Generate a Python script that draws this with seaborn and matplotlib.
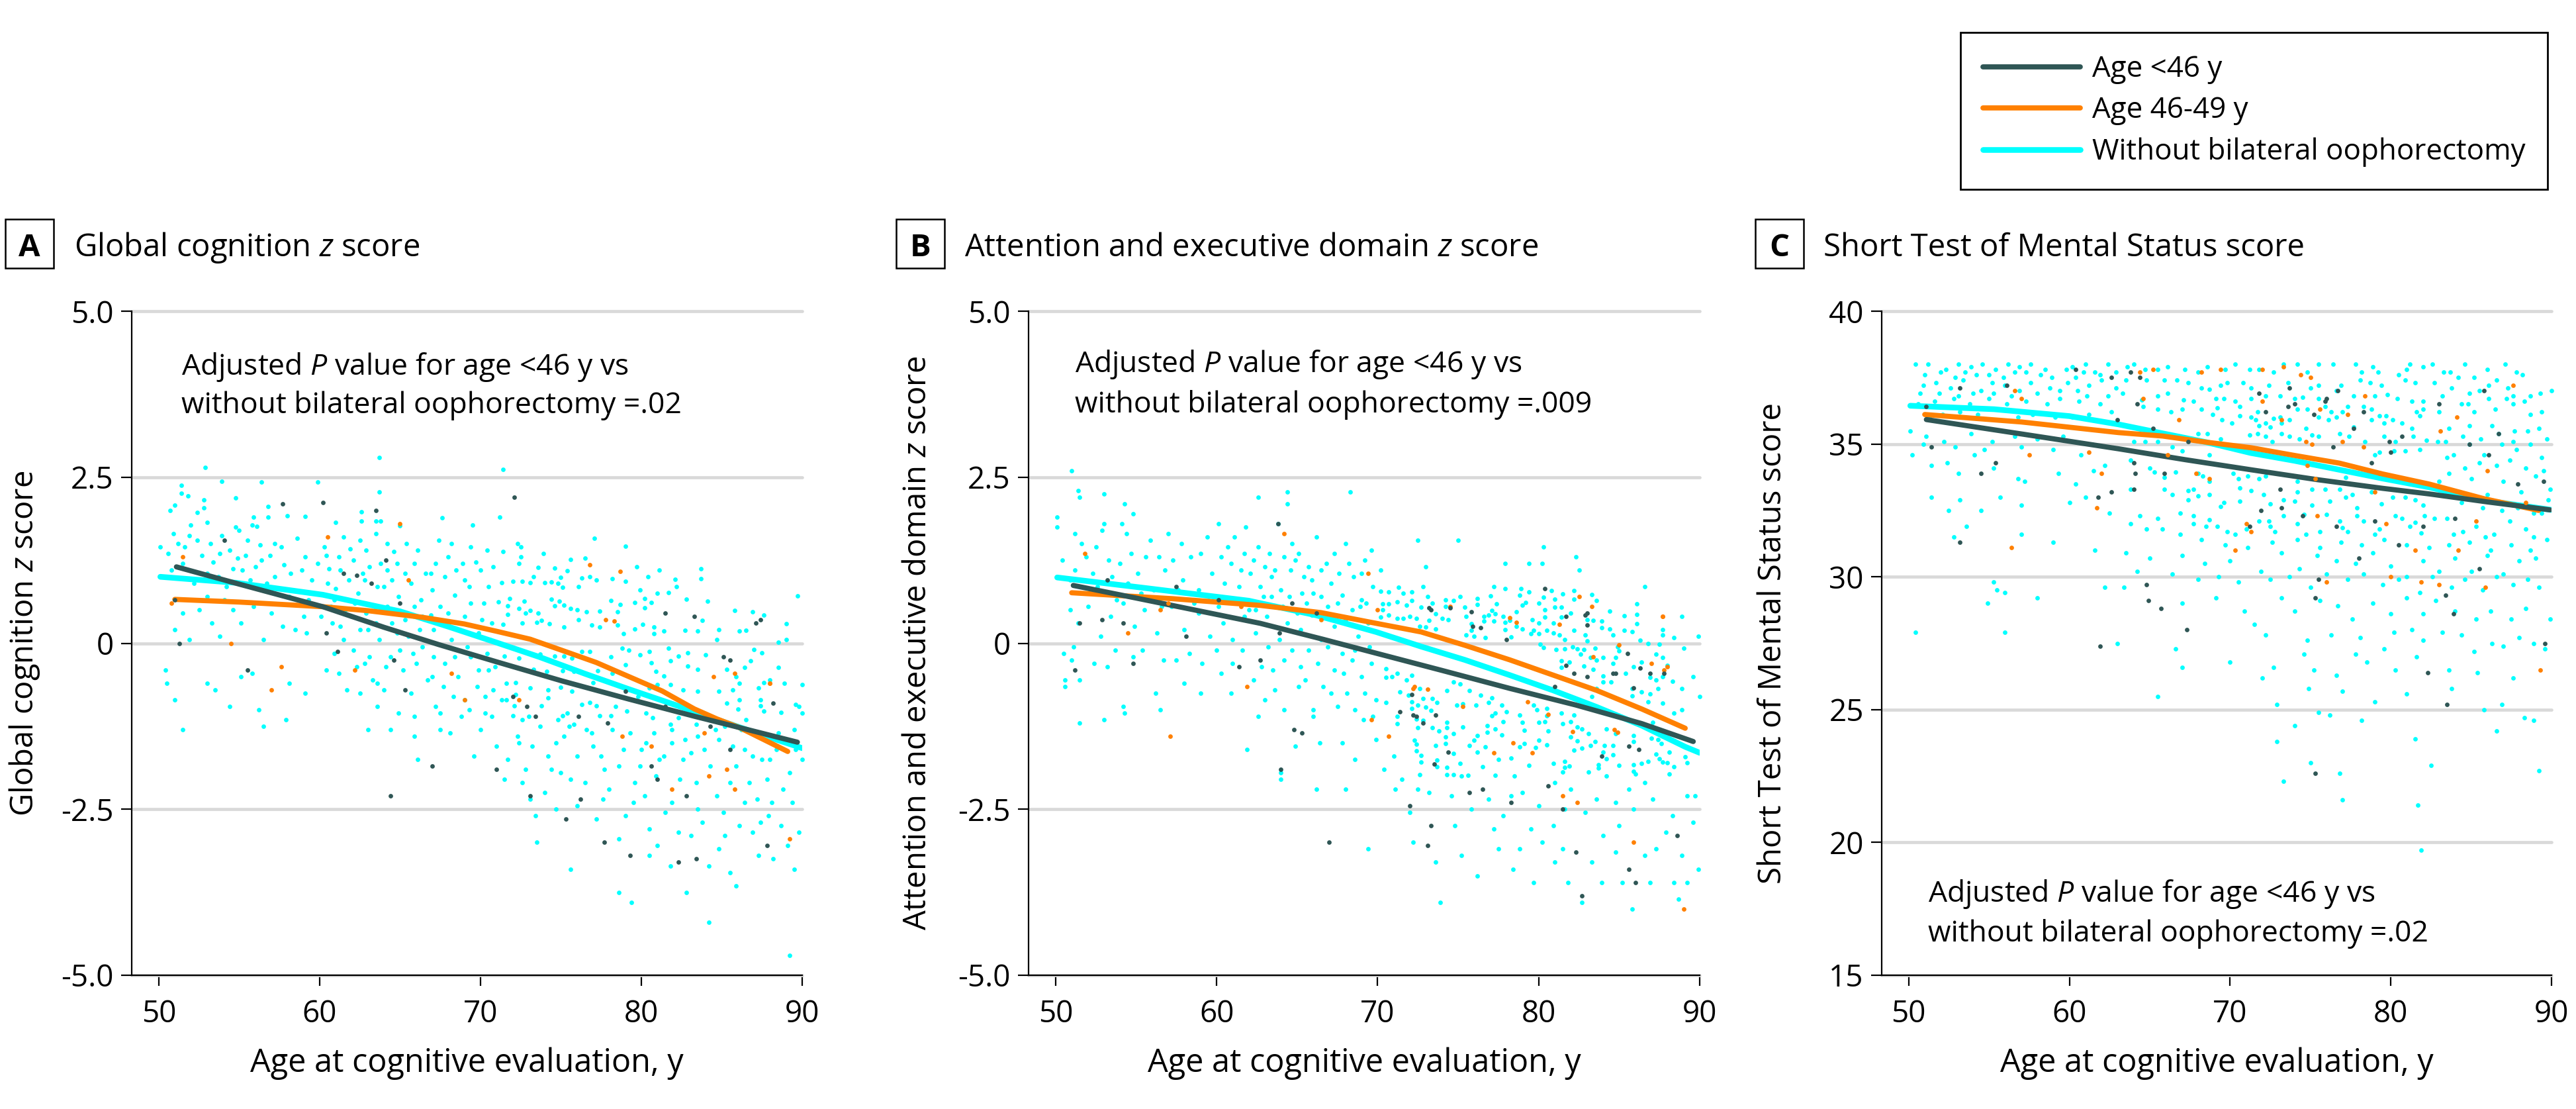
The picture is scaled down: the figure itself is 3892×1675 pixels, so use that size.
#Three panels of cognition score vs age with fitted curves
import matplotlib
matplotlib.use("Agg")
import matplotlib.pyplot as plt
import pandas as pd
import seaborn as sns

W, H = 3892, 1675
dark = "#2F5655"
orange = "#FF8000"
cyan = "#00FFFF"
group_names = ["Age <46 y", "Age 46-49 y", "Without bilateral oophorectomy"]

#fitted curves (age, score)
a_dark_line = [(51.1,1.15),(55,.89),(60.2,.55),(64,.24),(67.4,-.02),(71,-.28),(75.1,-.57),(79.2,-.84),(83.3,-1.1),(86.1,-1.27),(89.7,-1.49)]
a_orange_line = [(51,.66),(55,.62),(60.2,.55),(63,.49),(66.4,.39),(69,.29),(71,.18),(73.1,.06),(75.1,-.11),(77.2,-.29),(79.2,-.5),(81.3,-.72),(83.3,-.99),(84.7,-1.14),(86.1,-1.27),(89.1,-1.63)]
a_cyan_line = [(50.1,1.0),(54.8,.91),(60.2,.73),(65,.48),(68,.25),(71,.01),(73.7,-.21),(76.5,-.46),(79.2,-.69),(82,-.92),(84.7,-1.15),(87.5,-1.38),(90,-1.58)]
b_dark_line = [(51.1,.87),(55,.68),(62.7,.30),(66.6,.06),(69.9,-.15),(74,-.41),(78.2,-.68),(82.3,-.93),(86.4,-1.21),(89.6,-1.48)]
b_orange_line = [(51,.76),(57.3,.67),(62.7,.57),(66.5,.46),(69.9,.3),(72.7,.17),(75.4,-.03),(78.2,-.25),(80.9,-.48),(83.6,-.71),(86.4,-.99),(89.1,-1.28)]
b_cyan_line = [(50.1,.99),(55.6,.83),(62,.64),(66.2,.42),(69.9,.17),(72.7,-.05),(75.4,-.25),(78.2,-.48),(80.9,-.71),(83.6,-.96),(86.4,-1.24),(89.1,-1.56),(90,-1.65)]
c_dark_line = [(51.1,35.92),(57,35.38),(63.05,34.82),(67.2,34.41),(71.3,34.03),(75.4,33.66),(79.5,33.33),(82.4,33.12),(86,32.82),(89.9,32.52)]
c_orange_line = [(51,36.11),(57,35.83),(63.05,35.43),(65.8,35.3),(68.5,35.07),(71.3,34.86),(74,34.57),(76.8,34.28),(79.5,33.87),(82.4,33.49),(85.8,32.94),(89.2,32.5)]
c_cyan_line = [(50.1,36.44),(55.3,36.31),(60,36.05),(63.05,35.74),(65.8,35.4),(68.5,35.07),(71.3,34.66),(74,34.37),(76.8,34.03),(79.5,33.7),(82.4,33.37),(85.8,32.88),(90,32.52)]

#individual participants (age, score)
a_cyan = [(52.9,2.65),(53.9,2.44),(56.4,2.43),(59.9,2.43),(63.7,2.8),(63.7,2.28),(71.4,2.62),(51.4,2.38),(51.4,2.26),(51.8,2.22),
(52.8,2.16),(51,2.08),(50.7,2),(52.8,2.04),(54.8,2.19),(56.8,2.06),(52.4,1.97),(55.9,1.9),(56.8,1.9),(58,1.92),
(59.1,1.91),(62.6,1.98),(63.5,1.84),(63.8,1.84),(62.6,1.84),(61,1.82),(65,1.77),(67.6,1.89),(69.5,1.78),(71.2,1.9),
(52,1.78),(53,1.82),(54.8,1.75),(55,1.7),(55.8,1.78),(56.1,1.76),(50.1,1.45),(50.6,1.35),(51.2,1.5),(51.6,1.45),
(52.4,1.55),(53.2,1.5),(53.8,1.35),(54.4,1.4),(55.5,1.55),(56.3,1.48),(57.2,1.5),(57.6,1.45),(58.6,1.58),(59.1,1.3),
(60.3,1.45),(60.4,1.32),(61.5,1.6),(62.1,1.25),(62.9,1.4),(63.5,1.65),(64.2,1.5),(64.6,1.38),(66.1,1.4),(67.2,1.2),
(68,1.3),(69.4,1.45),(50.3,1),(50.8,1.1),(51.5,1.2),(52.2,.9),(53,1.05),(53.7,1),(54.2,.85),(55.2,1.1),
(56,1.15),(56.7,.9),(57.2,1.0),(58.1,.7),(59.3,.65),(60.5,.9),(61,.82),(61.8,.95),(62.4,.75),(63.4,.55),
(64,.85),(64.9,.7),(65.7,.9),(66.3,.65),(67,.8),(67.8,1),(68.4,.72),(69.3,.85),(70.2,.6),(51,.2),
(51.5,.45),(52.5,.5),(53.3,.3),(54.1,.65),(55.1,.3),(56.5,.05),(57,.45),(58.5,.2),(59.2,.15),(60.8,.3),
(61.5,.05),(62,.4),(63,.2),(63.7,.05),(64.5,.3),(65.5,.1),(66.4,.4),(67.1,.2),(68.2,.05),(69,.4),
(69.9,.15),(70.7,.3),(50.4,-.4),(50.5,-.6),(51,-.85),(51.5,-1.3),(53,-.6),(53.5,-.7),(54.4,-.95),(55.1,-.5),
(55.8,-.45),(56.2,-1),(56.5,-1.25),(57.9,-1.15),(58.1,-.6),(59.1,-.75),(60.4,-.4),(61.7,-.7),(62.3,-.35),(63,-1.3),
(63.6,-.95),(64,-.7),(64.9,-1.05),(65.9,-1.4),(66.1,-1.75),(67,-.5),(67.5,-1.05),(68.1,-1.35),(69,-.85),(69.6,-1.7),
(70.3,-1.05),(70.9,-.35),(72.3,-1.4),(72.8,-1.9),(73,-1.1),(73.4,-2.6),(73.5,-3),(74.7,-1.5),(75.6,-2.05),(75.6,-3.4),
(76.6,-1.3),(77.7,-1.9),(78.2,-1.3),(78.6,-2.95),(78.6,-3.75),(79.4,-3.9),(79.5,-2.4),(80,-1.6),(80.5,-2.8),(81,-3.05),
(81.4,-1.7),(81.9,-2.4),(82.3,-2.85),(82.8,-3.75),(83.1,-1.65),(83.5,-2.5),(84.2,-3.35),(84.2,-4.2),(84.8,-1.45),(85.1,-2.55),
(85.5,-3.45),(85.9,-1.85),(85.9,-3.65),(86.7,-2.1),(87.4,-2.7),(88,-1.75),(88.2,-3.25),(88.8,-2.2),(89.1,-3.05),(89.2,-4.7),
(89.4,-2.4),(89.6,-1.6),(89.8,-.95),(89.8,-2.85),(90,-1.75),(70,-1.3),(71,-1.55),(72.6,-2.1),(74,-2.25),(75,-1.95),
(76.5,-2.1),(78,-2.2),(80.9,-2),(83.4,-2.1),(86.4,-2.4),(87.9,-2.6),(61.3,1.1),(62.7,1.05),(60.7,.55),(61.6,.5),
(62.8,.95),(63.8,1.2),(64.5,.95),(65.3,1.05),(66.9,1.05),(68.5,1.1),(69,.95),(70,1.1),(70.5,.85),(62.5,.2),
(63.1,-.2),(64.1,-.35),(65,-.1),(66,-.3),(66.7,-.55),(67.8,-.3),(68.6,-.5),(69.4,-.2),(69.8,-.65),(70.5,-.4),
(60.9,-.15),(62.5,-.75),(63.3,-.55),(65.7,-.75),(67.2,-.95),(68.8,-1.1),(70.3,-.8),(71.7,-1.75),(73.2,-1.55),(74.4,-1.9),
(75.2,-1.4),(76,-1.7),(77,-1.55),(78.9,-1.6),(79.9,-1.85),(80.8,-1.35),(81.9,-1.5),(82.6,-1.75),(83.5,-1.4),(84.3,-1.85),
(85.2,-1.25),(86.4,-1.6),(87.2,-1.4),(87.8,-2.05),(88.5,-1.35),(89.2,-1.95),(82.4,-2.05),(84.7,-2.3),(85.5,-2.1),(86.9,-2.85),
(88.7,-2.75),(87.3,-3.2),(83.1,-2.9),(81.5,-2.55),(79.6,-2.1),(77.2,-2.65)]
a_cyan_young = [(50.9,1.65),(51.9,1.62),(52.7,1.32),(53.4,1.22),(53.9,1.62),(54.6,1.12),(54.9,1.28),(55.4,1.32),(55.7,.95),(56.4,1.25),
(56.9,1.32),(57.8,1.18),(58.2,1.05),(58.9,1.1),(59.5,.95),(59.9,1.2),(60.6,1.12),(61.2,1.3),(61.9,1.42),(62.5,1.55),
(63.1,1.15),(63.6,.85),(64.2,1.1),(64.8,1.2),(65.4,1.5),(65.9,1.2),(66.6,1.05),(67.4,1.55),(68.2,1.5),(68.9,1.2),
(69.7,1.22),(70.4,1.4),(70.8,1.15),(60.1,.4),(60.9,.65),(61.3,.25),(62.2,.6),(62.9,.45),(63.5,.3),(64.2,.55),
(64.8,.15),(65.3,.35),(65.9,.55),(66.2,.2),(66.9,.42),(67.5,.55),(68,.45),(68.7,.2),(69.4,.6),(70.1,.35),
(70.6,.05),(61.2,-.45),(62.1,-.1),(62.8,-.3),(63.6,-.6),(64.4,-.2),(65.2,-.4),(65.8,-.15),(66.4,-.05),(67.1,-.2),
(67.7,-.65),(68.4,-.2),(69.2,-.05),(69.9,-.4),(70.4,-.15),(70.8,-.7),(68.3,-.8),(69.3,-1.0),(70.7,-1.1),(64.4,-1.3),
(65.9,-1.1),(67.5,-1.3),(52,.65),(53,.7),(54.6,.5),(55.9,.55),(57.7,.25),(59,.4),(51.9,.05),(53.8,.1),
(72.4,-1.5),(73.7,-1.25),(74.2,-1.7),(75.5,-1.25),(76.9,-1.35),(77.5,-1.7),(78.6,-1.85),(79.3,-1.35),(80.3,-1.5),(81.1,-1.75),
(81.9,-1.3),(82.7,-1.45),(83.9,-1.6),(84.6,-1.3),(85.7,-1.55),(86.2,-1.3),(86.9,-1.7),(87.5,-1.75),(88.4,-1.6),(89.5,-1.3),
(71.5,-2.05),(73.1,-2.35),(74.7,-2.5),(76,-2.45),(77.6,-2.35),(79,-2.6),(80.2,-2.3),(80.5,-3.2),(81.8,-3.35),(83.8,-2.7),
(85.2,-2.9),(86.1,-2.75),(87.2,-2.35),(88.1,-2.4),(89.5,-3.4),(84.8,-3.1)]
a_cyan_core = [(72.3,1.5),(72.5,1.45),(71.4,1.38),(72.5,1.3),(73.9,1.35),(72.4,1.2),(73.6,1.14),(74.6,1.13),(75.6,1.26),(76.5,1.28),
(77.1,1.58),(79,1.46),(79.7,1.15),(81.1,1.1),(83.7,1.12),(80.4,1),(82.1,.96),(83.7,.97),(82.2,.85),(79.9,.8),
(79,.93),(78.2,.97),(77.2,.95),(76.8,1),(76.3,.98),(76.1,.85),(75.4,1.09),(75,.99),(74.4,.92),(73.3,1),
(71.3,.91),(72,.93),(72.6,.93),(73.1,.91),(74,.91),(74.8,.9),(75.1,.84),(81,.75),(81.7,.76),(82.8,.66),
(84.1,.63),(89.7,.71),(85.8,.49),(86.9,.47),(87.6,.42),(83.8,.34),(80.2,.67),(79.6,.61),(80.6,.61),(80.2,.53),
(78.1,.64),(78.7,.58),(78.5,.47),(77.4,.48),(76.6,.47),(76,.5),(75.6,.52),(74.4,.66),(74.9,.63),(74.6,.56),
(75.2,.57),(72.7,.63),(71.8,.67),(71.1,.62),(71.7,.56),(72.4,.52),(73.1,.49),(73.6,.45),(72.8,.45),(71.7,.43),
(73.8,.34),(74.3,.29),(73.5,.31),(72.6,.3),(71.4,.28),(75.2,.24),(76.1,.35),(76.9,.27),(77.4,.24),(78.5,.27),
(78.9,.14),(79.6,.21),(80.1,.28),(80.8,.24),(80.8,.14),(81.4,.18),(82.7,.19),(83.5,.18),(84.8,.2),(86.1,.18),
(86.5,.19),(84.7,.05),(89,.29),(89,.05),(88.5,.01),(87,-.09),(87.5,-.14),(86.8,-.26),(85.3,-.39),(85.9,-.5),
(86.4,-.36),(88.5,-.36),(88,-.55),(88.9,-.6),(90,-.62),(87.6,-.59),(86.1,-.6),(87.3,-.67),(85.7,-.7),(84.8,-.72),
(83.5,-.72),(82.6,-.7),(86.1,-.85),(87.4,-.85),(87.4,-.94),(85.3,-.9),(86,-.99),(88.7,-1.04),(89.6,-.92),(90,-1.05),
(87.6,-1.02),(86.5,-1.15),(81,-.62),(80.5,-.67),(81.8,-.62),(81.4,-.49),(80.6,-.29),(80.9,-.42),(79.8,-.8),(80.3,-1.05),
(80.7,-1.12),(82.3,-1.12),(81.8,-1.22),(83.4,-1.22),(78.4,-.95),(79.1,-1.02),(78.1,-1.09),(77.2,-.94),(76.3,-.92),(76.8,-.89),
(77.4,-1.09),(75.4,-1.05),(74.2,-.82),(75,-.66),(75.7,-.72),(73.8,-.94),(74.2,-.7),(73.1,-.67),(72.2,-.77),(71.6,-.6),
(72.2,-.59),(71.3,-.85),(72.1,-.94),(72,-1.09),(72.6,-1.15),(74.8,-1.15),(75.8,-1.22),(75.1,-1.09),(71.6,-.85),(73.7,-.16),
(74.6,-.19),(72.4,-.22),(71.5,-.19),(73.3,-.39),(74.1,-.42),(75.1,-.41),(75.8,-.42),(77.3,-.41),(78.2,-.45),(77,-.59),
(75.7,-.22),(75.2,-.19),(76.3,-.12),(76.8,-.12),(78.1,-.2),(79,-.32),(78.8,-.07),(79.2,-.1),(79.9,-.17),(80.5,-.12),
(81.7,-.07),(82.3,-.19),(82.9,-.14),(84,-.17),(81.8,-.26),(82.9,-.34),(83.5,-.39)]
a_dark = [(55.5,-.4),(51.3,0),(51,.65),(57.7,2.1),(60.2,2.12),(63.5,2.0),(64.1,1.25),(54.1,1.55),(61.5,1.05),(62.3,1.02),(63.2,.9),(72.1,2.2),(65,.6),(60.4,.15),(61.1,-.12),(64.6,-.25),(65.3,-.7),(64.4,-2.3),(67,-1.85),(71,-1.9),(73.1,-2.3),(75.3,-2.65),(76.2,-2.35),(77.7,-3),(79.3,-3.2),(82.3,-3.3),(83.4,-3.25),(87.8,-3.05),(81,-2.05),(80.6,-1.85),(82.8,-2.3),(85.5,-1.6),(84.3,-1.25),(88.2,-.9),(72,-.8),(72.9,-.95),(73.4,-1.1),(76.1,-1.1),(77.9,-1.2),(79,-.72),(81.5,-.95),(81.5,.45),(83.3,.4),(85.1,-.2),(85.5,-.25),(87.1,.3),(87.4,.35)]
a_orange = [(51.5,1.3),(60.5,1.6),(65,1.8),(65.5,.95),(50.8,.6),(54.5,0),(57,-.7),(57.6,-.35),(62.2,-.4),(68.2,-.45),(69,-.85),(72.4,-.85),(76.8,1.18),(78.7,1.08),(77.8,.35),(78.3,.33),(78.8,-1.4),(80.6,-1.55),(81.9,-2.2),(85.3,-1.9),(85.8,-2.2),(88,-.6),(89.2,-2.95),(84.2,-2),(85.8,-.45),(83.9,-1.35),(84.5,-.5),(88,-.6)]

b_cyan = [(51,2.6),(51.4,2.3),(51.5,2.2),(53,2.25),(54.3,2.1),(53,1.8),(54.8,1.95),(50.1,1.9),(50.1,1.75),(51.2,1.65),
(52.9,1.7),(54.1,1.8),(54.4,1.65),(57,1.65),(62.6,2.2),(64.4,2.28),(64.4,2.1),(68.3,2.28),(60.1,1.8),(61.1,1.6),
(61.8,1.75),(63.3,1.35),(63.8,1.8),(64.7,1.5),(66.2,1.6),(66.5,1.1),(68,1.5),(69.2,1.25),(70.2,1.1),(72.5,1.55),
(73,1.15),(75,1.55),(77.9,1.2),(79.4,1.2),(80.3,1.45),(80.2,1.2),(82.5,1.1),(82.3,1.3),(50.4,1.25),(50.9,.95),
(51.2,1.1),(51.9,1.3),(52.3,1.05),(52.9,.75),(53.5,1),(54,1.2),(54.5,.9),(55.1,1.05),(55.6,1.3),(56.1,.8),
(56.8,1.1),(57.3,1.25),(57.9,.95),(58.4,1.3),(58.9,.8),(59.7,1.05),(60.3,.7),(60.9,1.2),(61.4,.85),(62.1,1.05),
(62.7,.85),(63.4,1),(64,.8),(64.6,1.1),(65.3,.75),(65.9,.95),(66.5,.7),(67.1,.9),(67.8,.72),(68.5,1),
(69,.65),(69.7,.85),(50.9,.5),(51.4,.3),(52,.55),(52.8,.1),(53.4,.4),(54.2,.6),(54.9,.25),(55.5,.5),
(56.3,.15),(57.2,.55),(58,.2),(58.9,.45),(59.6,.1),(60.4,.3),(61,.05),(61.7,.4),(62.4,.15),(63.1,.4),
(63.9,.05),(64.4,.3),(65.2,.2),(65.9,.42),(66.5,.05),(67.3,.25),(68,.35),(68.8,.1),(69.4,.3),(50.5,-.15),
(50.6,-.55),(50.6,-.65),(51.1,-.05),(51.5,-.55),(51.5,-1.2),(53,-1.15),(53.2,-.35),(54.2,-.95),(54.3,-1.05),(54.8,-.2),
(56.2,-.75),(56.5,-1),(57.5,-.25),(58,-.6),(59,-.75),(59.1,-.3),(60.3,-.45),(61,-.3),(61.9,-1.6),(62.3,-.55),
(63,-.85),(63.2,-.05),(64,-2.05),(64,-1.95),(64.2,-1),(64.2,-.25),(65.2,-.35),(66,-1),(66,-1.1),(66.2,-2.2),
(66.4,-1.5),(67.3,-.4),(68,-2.2),(68.1,-.75),(68.4,-.25),(69.1,-1.15),(69.7,-1.1),(69.4,-3.1),(72,-2.55),(72.2,-3),
(72.5,-2.2),(73.6,-3.3),(73.9,-3.9),(75.2,-2),(75.2,-3.2),(76.2,-3.5),(77.2,-2.8),(78.3,-2.3),(78.4,-3.4),(79.5,-2.8),
(79.7,-3.6),(80.2,-3),(81,-2.1),(81,-3.3),(81.6,-2.5),(81.8,-3.6),(82.7,-3.9),(83.3,-3.3),(84,-2.9),(84.8,-2.4),
(85.2,-3.6),(85.6,-2.2),(85.8,-4),(86.6,-2.1),(86.6,-3.2),(87.3,-3.1),(88,-1.8),(88.3,-2.6),(88.4,-3.6),(88.7,-3.85),
(89.2,-1.8),(89.2,-3.6),(89.7,-2.3),(89.9,-3.4),(89.6,-.5),(90,-.8),(89.9,.1),(60.5,.9),(62.9,.7),(61.7,1.35),
(62.3,1.25),(63.6,1.1),(64.9,1.25),(65.4,1),(66.8,1.2),(67.6,1.05),(68.9,.55),(64.1,.55),(65,.45),(62,.5),
(66.3,-.3),(67.1,-.75),(69,-.5),(69.6,-.3),(67.9,-.45),(65.1,-.65),(63.5,-.4)]
b_cyan_young = [(51.6,1.5),(52.5,1.45),(53.3,1.25),(54.7,1.35),(55.9,1.55),(56.4,1.3),(57.8,1.5),(59,1.35),(59.4,1.6),(60.3,1.3),
(60.7,1.45),(61.5,1.1),(62.6,1.45),(63,1.15),(64.2,1.3),(65.1,1.35),(65.7,1.15),(66,.75),(67.3,1.35),(68.2,1.2),
(69,1.05),(69.6,1.4),(51.7,.75),(52.6,.85),(53.8,.65),(54.6,.7),(55.3,.75),(56.6,.55),(57.6,.8),(58.6,.6),
(59.5,.7),(60.1,.55),(61.2,.65),(62.4,.5),(63.4,.7),(64.5,.7),(65.6,.6),(66.9,.55),(67.5,.6),(68.4,.5),
(69.3,.6),(51,-.25),(52.4,-.3),(53.7,-.1),(55.4,-.1),(56.7,-.25),(58.3,-.15),(60,-.1),(61.6,-.1),(62.8,-.35),(64.7,-.1),
(65.7,-.1),(66.9,-.05),(67.8,-.15),(68.6,-.1),(69.5,-.05),(60.9,-.75),(62.6,-1.1),(63.6,-.7),(65.5,-.55),(66.6,-.65),
(67.5,-.95),(68.6,-1),(69.2,-.75),(69.9,-.85),(64.9,-1.55),(67.8,-1.5),(68.6,-1.75),(69.9,-1.45),(71,-1.7),(71.5,-2.05),
(70.4,-1.9),(71.1,-2.2),(73.2,-2.25),(74.6,-2.3),(75.8,-2.5),(76.9,-2.35),(77.8,-2.6),(79,-2.25),(80,-2.45),(80.9,-2.75),
(82,-2.2),(82.9,-2.55),(83.6,-2.35),(85,-2.75),(85.9,-2.5),(87.1,-2.35),(87.9,-2.85),(89.2,-2.3),(89.6,-2.7),(77.5,-3.1),
(78.8,-3.1),(81.5,-3.1),(83.9,-3.6),(84.8,-3.15),(86.9,-3.6),(88.9,-3.2),(74.8,-2.75)]
b_cyan_core = [(70.2,.78),(70.7,.77),(71.3,.84),(71.6,.75),(72.1,.77),(72.8,.85),(73.1,.7),(70.7,.59),(71.2,.62),(70.3,.59),
(71.8,.57),(72.1,.64),(72.7,.54),(73.4,.6),(74.2,.65),(74.7,.64),(74.2,.55),(75.1,.7),(75.4,.54),(76.2,.67),
(76.2,.58),(77,.71),(77.4,.59),(77.2,.85),(77.9,.82),(78.9,.82),(79.4,.77),(78.8,.72),(79,.57),(79.2,.61),
(80,.6),(80.3,.69),(80.8,.79),(81,.66),(81.5,.74),(82.2,.79),(82.2,.66),(81.4,.54),(83.3,.73),(83.6,.64),
(86.6,.85),(86.1,.59),(70.2,.39),(70.7,.42),(71.2,.37),(71.6,.37),(72,.4),(72.4,.37),(70.3,.5),(73.6,.44),
(74,.37),(74.4,.35),(75.5,.4),(76.6,.4),(76.9,.42),(77.3,.44),(77.1,.49),(77.8,.4),(76.6,.33),(77.2,.33),
(77.9,.31),(78.2,.34),(78.6,.47),(78.6,.25),(79,.21),(79.6,.35),(80,.3),(80.4,.39),(80.4,.5),(80.9,.3),
(81,.54),(82,.45),(81.4,.39),(83,.35),(83.4,.34),(83.9,.33),(83.9,.23),(84.4,.48),(84.4,.21),(85.3,.41),
(86.1,.43),(86.1,.29),(88.9,.4),(85.3,.19),(85.8,.17),(84.6,.12),(73,.24),(73.2,.34),(72.6,.25),(73.6,.21),
(75.8,.29),(75.8,.19),(75.5,.12),(76,.1),(76.7,.08),(77.9,.2),(78.3,.09),(79.5,.14),(79.7,.19),(80,.14),
(80.5,.19),(80.9,.15),(81.3,.12),(81.6,.05),(82.2,.19),(82.9,.12),(83,.03),(80.1,-.01),(80.3,-.06),(81.1,-.09),
(81.6,-.08),(82.1,-.05),(82.4,-.08),(82.8,-.09),(83.5,-.07),(84.9,-.05),(85,-.11),(86.3,.04),(86.8,0),(87.5,-.01),
(87.7,.12),(87.7,.2),(88.4,.08),(89,-.07),(87.3,-.16),(87.7,-.21),(88,-.33),(82.6,-.16),(83.2,-.21),(83.6,-.25),
(84,-.21),(81.4,-.26),(81.9,-.28),(81.4,-.36),(82.8,-.34),(83.4,-.39),(84.6,-.3),(84.8,-.21),(85.9,-.35),(85.4,-.45),
(86.4,-.28),(86.9,-.51),(87.3,-.55),(87.7,-.5),(88.3,-.57),(88.9,-.68),(86.9,-.76),(85.8,-.68),(86.4,-.73),(87.4,-.68),
(84,-.49),(84.5,-.58),(84,-.58),(83.6,-.68),(83.3,-.8),(85.8,-.79),(86.8,-.88),(87.7,-.9),(88.4,-1.05),(88.9,-1),
(87.1,-1.19),(70.5,-.38),(70.5,-.51),(70.9,-.5),(71.2,-.45),(71.8,-.55),(72.1,-.48),(72.6,-.68),(71.4,-.73),(71.9,-.78),
(70.5,-.89),(72.1,-.88),(72.5,-.93),(72.8,-.83),(73.4,-.83),(73.7,-.89),(73,-.96),(73.3,-1.01),(72.1,-.98),(71.2,-1.1),
(71.2,-1.21),(72.4,-1.14),(72.8,-1.16),(72.5,-1.27),(73.4,-1.27),(73.8,-1.32),(74.3,-1.19),(74.3,-1.27),(74.7,-1.36),(74.2,-1.41),
(73.6,-1.54),(74.2,-1.51),(75.3,-1.26),(72.3,-1.46),(72.4,-1.52),(72.4,-1.62),(72.7,-1.69),(72.7,-1.79),(73.7,-1.76),(73.7,-1.86),
(72.6,-1.98),(74.3,-1.87),(74.7,-1.66),(75.1,-1.81),(74.3,-1.98),(74.7,-1.98),(75.6,-1.99),(76.5,-1.86),(77.3,-1.99),(78.5,-2),
(77.5,-1.75),(78.3,-1.73),(79.4,-1.84),(76,-1.46),(76.2,-1.39),(75.7,-1.54),(76.2,-1.64),(76.7,-1.56),(74.3,-.71),(74.7,-.58),
(75.1,-.61),(75.7,-.71),(76.4,-.78),(75.3,-.91),(74.9,-.93),(76.1,-.93),(76.9,-.89),(77.1,-.82),(77.7,-.93),(78,-1.03),
(77.3,-1.05),(77.1,-1.09),(76.8,-1.24),(77.3,-1.29),(77.7,-1.38),(76.8,-1.34),(77.8,-1.18),(78.8,-1.08),(79,-1.19),(79.1,-1.31),
(79.7,-.93),(79.9,-1),(80,-1.19),(80.5,-1.09),(80.5,-.98),(80.4,-1.18),(80.6,-1.32),(80,-1.46),(79.1,-1.51),(78.8,-1.56),
(79.8,-1.57),(80.5,-1.53),(81.5,-1.21),(81.4,-1.05),(82.2,-1.08),(82,-1.18),(82.4,-1.26),(82.7,-1.29),(83.1,-1.36),(82,-1.41),
(82.4,-1.47),(82.7,-1.58),(83.2,-1.54),(83.5,-1.48),(82.2,-1.61),(81.6,-1.78),(80.9,-1.81),(81.6,-1.87),(81.9,-1.85),(81.5,-1.94),
(83.1,-1.94),(84.1,-1.54),(84.6,-1.54),(84,-1.64),(84.6,-1.68),(84.2,-1.74),(85,-1.84),(83.7,-1.83),(83.7,-1.88),(84.2,-2),
(85.9,-1.83),(86.4,-1.81),(85.9,-1.93),(86,-1.97),(86.8,-1.78),(87.5,-1.74),(87.3,-1.67),(87.7,-1.79),(88.4,-1.86),(88.1,-1.97),
(89.1,-1.71),(88.1,-1.64),(87.6,-1.51),(87.4,-1.45),(87,-1.43),(85.9,-1.48),(85.9,-1.39),(84.8,-1.36),(84.2,-1.29)]
b_dark = [(63.8,1.8),(57.5,.85),(53.2,.95),(60.1,.65),(64.7,.6),(66.2,.45),(54.2,.3),(52.9,.35),(51.5,.3),(58.1,.1),(51.2,-.4),(54.8,-.3),(61.4,-.35),(62.7,-.25),(63.9,.15),(64.8,-1.3),(65.3,-1.35),(64,-1.9),(67,-3),(72,-2.45),(73.3,-2.75),(73.1,-3.05),(72.4,-1.1),(76.5,-2.2),(75.7,-2.25),(78.3,-2.4),(81.5,-2.5),(82.3,-3.15),(82.7,-3.8),(85.6,-3.4),(86,-3.6),(88.6,-2.9),(86.2,-1.6),(85.6,-1.55),(83.9,-1.7),(80.6,-2.15),(81,-.65),(84.8,-.45),(87.8,-.45),(75.9,.25),(78,.05),(83,.45),(73.3,.5),(73.2,.53),(74.5,.53),(75.8,.47),(76.4,.23),(80.4,.82),(81.7,.4),(82.9,.42),(83,.27),(81.7,-.33),(82.2,-.45),(83,-.5),(84.6,-.45),(85.5,-.15),(86.3,-.37),(86.9,-.45),(85.9,-.67),(72.1,-.77),(71.4,-1.03),(72.2,-1.08),(73.6,-1.08),(72.8,-1.2),(74.4,-1.64),(73.5,-1.82)]
b_orange = [(51.8,1.35),(64.2,1.65),(69.4,1.05),(61.5,.55),(70,.5),(57,.6),(66.5,.35),(54.5,.15),(56.5,.5),(57.1,-1.4),(61.9,-.65),(69.6,-1.15),(70.7,-1.4),(72.3,-.65),(75.3,-.95),(77.2,-1.65),(78.4,-1.5),(79.6,-1.65),(81.5,-2.3),(82.4,-2.4),(85.9,-3),(89,-4),(84.7,-1.3),(87.7,.4),(88,-.35),(82.5,.7),(83.4,-.2),(74.5,.55),(83.3,.55),(87.7,.4),(78.2,.38),(78.6,.31),(81.3,.28),(85,-.02),(87,-.3),(87.8,-.4),(79.3,-.88),(80.6,-1.07),(82.1,-1.33),(84.9,-1.34),(72.2,-.68),(73.1,-.69)]

c_cyan = [(50.4,38),(51.2,38),(52.3,37.8),(53.1,38),(53.9,37.9),(54.6,38),(55.4,37.8),(56.2,38),(56.9,37.9),(57.6,38),
(58.2,37.6),(59.8,37.8),(61,38),(61.6,37.7),(62.4,38),(82.6,38),(83.3,37.7),(84.6,38),(86,37.8),(87.1,38),
(50.9,37.2),(51.7,37.3),(52.6,37.1),(53.4,37.4),(54.5,37),(55.2,37.3),(56,37.2),(56.9,37),(57.6,37.3),(58.8,37.1),
(59.9,37.3),(60.5,37),(61.2,37.2),(62,37.4),(62.9,37.1),(82.7,37.3),(83.8,37.1),(84.9,36.9),(86.1,37.2),(87.3,37.1),
(87.6,36.8),(50.6,36.5),(51.6,36.6),(52.8,36.7),(53.8,36.5),(55,36.7),(56.1,36.5),(57.3,36.6),(58.6,36.5),(59.4,36.7),
(60.6,36.6),(61.9,36.5),(83,36.2),(84.4,36.5),(85.2,36.2),(86.5,36.3),(87.6,36.5),(88.7,36.1),(89.4,36.2),(90,37),
(50.1,35.5),(51.1,35.3),(52.2,35.1),(53.9,35.4),(55.2,35.1),(56.6,35.3),(58,35.2),(59.6,35.3),(61.4,35),(82.9,35.1),
(83.9,34.6),(84.9,35),(85.8,34.6),(86.9,35),(87.8,34.8),(88.7,35),(89.4,34.5),(50.2,34.6),(51.4,34.2),(52.4,34.3),
(53.1,33.9),(54.1,34.6),(55.3,34.1),(56.8,33.7),(57.2,33.6),(62.2,34.2),(83,33.6),(84,33.2),(85,33.7),(86,33.1),
(87,33.6),(88.1,33.2),(89,33.8),(89.9,33.3),(51.4,33),(52.5,32.5),(53.2,32.9),(54.5,32.5),(55.7,33),(57,32.7),
(60,32.8),(61,33),(62.5,32.4),(83.5,32.2),(84.5,31.7),(85.3,31.9),(86.4,31.6),(87.4,32.1),(88.4,31.8),(89.4,32.4),
(52.8,31.5),(53.6,31.9),(57,31.6),(59,31.3),(61.6,31),(63.5,30.9),(65,30.7),(67,30.8),(68.4,30.5),(70,30.6),
(71.9,30.2),(73.2,30.9),(74.3,30.3),(75.4,30.8),(76.6,30.6),(77.8,30.5),(78.9,30.9),(80,30.4),(81,30),(82,30.6),
(83,30.2),(84,30.7),(85,30.2),(86,30.8),(87,30.1),(88,30.6),(89,30.7),(55.3,29.8),(55.5,29.5),(54.9,29),
(56,29.4),(58,29.2),(62.2,29.6),(63.4,29.6),(67,29),(69.1,29.2),(70.9,28.7),(71.5,28.2),(73.2,29.2),(74,28.7),
(75.6,29.1),(76.7,28.9),(77.6,28.4),(78.9,29),(80,28.6),(81,29.2),(82,28.6),(82.8,29.1),(84,28.7),(85.3,28.4),
(86.2,28.7),(87.5,28.4),(88.4,28.8),(89.9,28.4),(50.4,27.9),(56,27.9),(63,27.5),(66.6,27.3),(67,26.6),(70,26.8),
(72,26.2),(72.7,26.6),(75.2,26.5),(76.6,26.3),(78.5,26.8),(80.3,26.5),(81.6,27),(83.6,26.5),(85.4,26.4),(87.6,26.2),
(65.5,25.5),(74.9,25.8),(75.5,24.9),(77,25.7),(79,25.3),(81,25.6),(83.8,25.8),(85.8,25),(86.9,25.2),(88.3,24.7),
(88.9,24.6),(72.9,25.2),(74,24.4),(72.9,23.8),(75,23),(73.3,22.3),(76.8,22.6),(77,21.6),(76.2,24.8),(78.2,24.6),
(81.5,23.9),(82.5,22.9),(81.7,21.4),(81.9,19.7),(86.6,24.2),(89.2,22.7),(52,37.7),(54.2,37.6),(55.9,37.5),(58.9,37.5),
(60.4,37.5),(61.9,37.6),(52.1,36.1),(54.3,36.1),(56.8,36),(59.1,36),(61.2,36.1),(83.7,37.7),(85.2,37.5),(86.6,37.4),
(88.2,37.6),(88.7,36.8),(89.2,35.6),(87.7,35.5),(86.3,35.7),(84.9,35.7),(83.6,35.6),(63.8,34.4),(64.4,32.3),(65.8,31.8),
(66.9,31.6),(68.2,31.4),(69.7,31.2),(71.1,31.1),(72.6,31.3),(74.2,31.4),(75.6,31.1),(76.9,31.3),(78.2,31.2),(79.6,31.4),
(81,31.2),(82.4,31.1),(83.6,31.2),(84.9,31.3),(86.2,31),(87.5,31.2),(88.7,31),(89.7,31.4),(69.3,30),(72.5,29.9),
(75,29.6),(77.3,29.9),(79.5,29.7),(81.8,29.4),(83.8,29.6),(85.7,29.5),(87.6,29.7),(89.2,29.6),(72.2,27.8),(74.8,27.6),
(76.3,27.8),(78.1,27.7),(80.2,27.9),(82,27.6),(84.4,27.8),(86.3,27.5),(88,27.7),(89.6,27.3)]
c_cyan_young = [(51,37.6),(52.9,37.5),(53.5,37.7),(55,37.6),(56.6,37.7),(57.3,37.7),(58.5,37.8),(60.2,37.9),(60.9,37.7),(62.9,37.7),
(50.7,36.9),(51.9,36.9),(53.1,36.8),(54,36.9),(55.3,36.9),(56.4,36.8),(58,36.9),(59.4,37),(61.1,36.8),(62.4,36.8),
(51.3,36),(53.2,36.2),(55.4,35.9),(57.7,36.1),(60.2,36),(62.6,36.2),(50.9,35),(52.9,34.9),(54.7,34.8),(57,34.9),
(59,34.8),(60.7,34.6),(62.4,34.9),(61.5,34),(59.3,33.9),(60.4,33.5),(84.2,37.5),(85.5,37),(87.8,37.7),(83.2,36.8),
(84.8,36.5),(86.1,36.7),(87.2,36.7),(88.3,36.6),(89.3,36.9),(83.4,35.1),(84.5,35.3),(85.6,35.2),(86.7,35.4),(87.6,35.1),
(88.5,35.5),(89.7,35.2),(83.5,34.5),(84.6,34.1),(85.5,34.3),(86.6,34.2),(87.4,34.4),(88.4,34.1),(89.5,34),(83.6,33.9),
(84.4,32.8),(85.7,32.6),(86.9,32.5),(87.9,32.6),(88.9,32.4),(89.8,32.9),(82.7,32.2),(83.9,31.6),(85.9,31.5),(88.9,31.5),
(64.2,30.2),(66.4,30.1),(68,29.9),(70.5,29.8),(73.7,30),(76,30.1),(78.3,30.1),(80.5,29.9),(82.6,30),(84.6,29.9),
(86.6,30),(88.5,29.9),(74.6,27.1),(77.8,27.1),(79.6,27.3),(81.3,28),(83.2,27.9),(85.2,27.2),(87,27.4),(88.9,27.5)]
c_cyan_core = [(63.6,37.9),(64,38),(64.7,37.8),(65.5,37.8),(66.1,37.9),(67.2,37.8),(68,37.7),(68.6,37.9),(69.7,37.8),(70.3,38),
(71.2,37.8),(71.8,37.8),(72.7,37.7),(73.3,38),(74.2,38),(74.8,37.7),(75.5,38),(76.4,38),(77.8,38),(78.2,37.7),
(78.9,37.9),(79.2,37.7),(80.5,37.6),(81.2,38),(81,37.8),(82,37.9),(63.5,37.4),(64.8,37.4),(65.9,37.4),(66.7,37.4),
(67.4,37.3),(68.2,37.1),(69.4,37.2),(69.8,37.3),(70.8,37.3),(71.3,37.1),(72.4,37.2),(73.6,37.3),(75,37.1),(75.5,37.2),
(76.9,37.2),(78.1,37.4),(78.7,37.3),(79.4,37.2),(80.9,37.4),(81.5,37.3),(63.3,36.9),(64.5,36.65),(65.5,36.8),(66.1,36.9),
(67.1,36.65),(67.7,36.6),(68.7,37.05),(69.1,36.7),(69.6,36.7),(70.3,36.6),(71.3,36.7),(72.2,36.8),(73.1,36.8),(74,36.7),
(74.5,36.75),(75.5,36.7),(76.6,37),(77.7,36.8),(79,36.8),(79.8,36.85),(80.4,36.7),(81.3,36.6),(82,36.6),(64.6,36.4),
(65.5,36.3),(66.3,36.2),(67,36.3),(68.2,36.3),(69.2,36.35),(68.9,36.1),(69.5,35.9),(70.6,36.4),(70.6,36.05),(71.3,36),
(71.7,36.2),(71.6,35.9),(72.2,35.8),(71.8,35.7),(72.7,35.95),(73.1,36),(73.7,35.9),(73.2,35.8),(72.5,35.65),(74.2,36.3),
(74.8,36.3),(74.7,35.6),(75.5,36),(75.9,36.4),(76.3,36.2),(76.6,36),(77,36.2),(76.1,35.9),(77.7,35.65),(77.3,36.4),
(78.3,36.4),(78.8,36.3),(78.8,35.9),(79.3,36.05),(79.7,36.05),(80.1,35.9),(79.6,35.8),(80.7,35.8),(81.6,36.2),(81.8,36.05),
(82,36.3),(81.3,35.6),(64,35.1),(64.7,35.1),(65.5,35.1),(66.4,34.9),(67,34.75),(68,35.4),(68.6,35.4),(68.7,34.6),
(69.4,35.2),(70.1,35.8),(71.2,35.35),(71.7,35.4),(72.2,35.3),(72.6,35.1),(73.2,35.4),(73.7,35.3),(74.3,35.2),(75.1,35.35),
(75.5,35.3),(76.8,35.4),(77.4,35.3),(78.4,35.1),(79,34.6),(79.3,34.7),(79.6,35.3),(80.3,35.1),(80.9,34.75),(81.4,35.3),
(81.8,34.8),(82.2,35.15),(80.2,34.75),(65,34.1),(65.3,33.95),(65.9,33.75),(66.6,33.95),(68,33.9),(68.3,33.8),(68.7,33.6),
(70.2,33.9),(70.5,33.7),(71.1,33.8),(71.8,33.7),(72.2,33.8),(74.2,33.6),(77.2,33.75),(63.8,33.3),(65.9,33.3),(66.4,33.1),
(67.4,33.25),(67.7,33.3),(68,33.05),(67.4,32.9),(68.7,33.1),(69.6,32.8),(69.4,32.65),(70.6,33.35),(70.6,32.85),(71.3,33.25),
(72.1,33.1),(72.5,32.75),(73.3,32.9),(74,32.85),(74.2,33.2),(75.1,32.7),(75.1,33.3),(75.9,33.3),(76.2,32.85),(76.8,33.3),
(77.2,33),(77.6,33.1),(77.9,32.6),(78.8,33.2),(79.4,32.75),(80.1,33),(80.9,33),(81.5,32.9),(82,32.7),(65.5,32.2),
(63.8,32),(64.8,31.8),(66.9,32.4),(67.7,32.3),(67.7,32),(68.5,31.9),(68.7,32.15),(69.2,31.9),(69.8,31.7),(70.3,31.6),
(71,31.8),(71.8,32.1),(72.4,32.1),(72.5,31.9),(72.8,31.7),(73.3,32.3),(74.2,32),(74.6,32.35),(74.7,31.6),(76,32.35),
(75.6,31.7),(76.8,32.1),(77,31.85),(77.3,31.7),(77.9,32.3),(78.3,32.1),(79,31.6),(79.3,31.8),(80.3,32.3),(80.7,32.2),
(81.2,31.9),(81.5,32.05),(81.9,31.65),(82.1,32.3)]
c_dark = [(51.1,36.4),(51.4,34.9),(53.2,37.1),(56.1,37.2),(54.5,33.9),(53.2,31.3),(55.4,34.3),(60.4,37.8),(62.6,37.5),(63.8,37.7),(64.4,37.5),(64.2,36.5),(63,35.9),(65.2,35.6),(62.6,33.2),(61.8,33),(64.1,33.9),(64,34.3),(64.8,29.7),(64.9,29.1),(65.7,28.8),(67.3,28),(61.9,27.4),(76.4,34.9),(78.8,34.3),(80,34.7),(86.1,34.6),(85.8,37),(71.8,36.9),(73.7,37.1),(76.7,37),(83,36.5),(84.9,35),(86.7,35.4),(73.2,32.6),(75.3,29.2),(75.5,29.9),(75.3,22.6),(83.4,29.3),(83.9,28.6),(89.6,27.5),(87.9,33.5),(89.5,33.6),(78,30.7),(82.3,26.4),(83.5,25.2),(84,32.2),(85.5,30.3),(72.2,36.2),(73.6,36.4),(74,36.5),(75.2,36.1),(75.9,36.6),(76,36.7),(77.7,35.6),(78.3,36.2),(79.9,35.1),(80.7,35.3),(71.9,32.5),(71.2,31.9),(73.1,33.3),(74.5,32.3),(76.6,31.9),(79,32.1),(80.5,31.2),(82,31.9),(64,33.3),(65.9,33.9),(67.4,35.1)]
c_orange = [(56.6,37),(57,36.7),(57.5,34.6),(56.4,31.1),(61.2,34.7),(62,33.9),(61.7,32.6),(64.6,36.7),(65.2,37.8),(66.1,34.6),(67.9,33.9),(68.7,33.7),(68.2,37.7),(69.4,37.8),(71,32),(71.3,31.7),(70.3,31),(72,37.8),(75,37.5),(74.4,37.6),(73.2,35.9),(75.4,32.3),(76,29.8),(75.6,36.3),(78.4,36.8),(77.3,36.1),(79,33.2),(79.7,32),(80,30),(81.5,31),(81.9,29.8),(83,29.7),(84.2,31),(85.3,32.1),(86,34),(85.9,29.6),(87.6,37.2),(88.4,32.8),(89.3,26.5),(84.1,36),(83.1,35.5),(64.4,37.7),(66.8,35.9),(72,36.6),(73.3,37.9),(74.7,35.1),(75.1,35),(74.8,34.2),(75.3,33.7),(77,35.1),(78.3,34.9),(79.3,33.9)]

panels = [
    {"letter": "A", "title": r"Global cognition $\mathit{z}$ score", "ylabel": r"Global cognition $\mathit{z}$ score",
     "left": 199, "right": 1212, "box": 8, "title_x": 112, "ylim": (-5, 5), "yticks": [-5, -2.5, 0, 2.5, 5],
     "yticklabels": ["-5.0", "-2.5", "0", "2.5", "5.0"], "label_x": 37, "note_xy": (51.4, 4.04, 3.46), "note": "=.02",
     "points": (a_dark, a_orange, a_cyan + a_cyan_young + a_cyan_core), "lines": (a_dark_line, a_orange_line, a_cyan_line)},
    {"letter": "B", "title": r"Attention and executive domain $\mathit{z}$ score", "ylabel": r"Attention and executive domain $\mathit{z}$ score",
     "left": 1554, "right": 2568, "box": 1354, "title_x": 1457, "ylim": (-5, 5), "yticks": [-5, -2.5, 0, 2.5, 5],
     "yticklabels": ["-5.0", "-2.5", "0", "2.5", "5.0"], "label_x": 1386, "note_xy": (51.2, 4.08, 3.47), "note": "=.009",
     "points": (b_dark, b_orange, b_cyan + b_cyan_young + b_cyan_core), "lines": (b_dark_line, b_orange_line, b_cyan_line)},
    {"letter": "C", "title": "Short Test of Mental Status score", "ylabel": "Short Test of Mental Status score",
     "left": 2843, "right": 3855, "box": 2652, "title_x": 2755, "ylim": (15, 40), "yticks": [15, 20, 25, 30, 35, 40],
     "yticklabels": ["15", "20", "25", "30", "35", "40"], "label_x": 2678, "note_xy": (51.2, 17.76, 16.26), "note": "=.02",
     "points": (c_dark, c_orange, c_cyan + c_cyan_young + c_cyan_core), "lines": (c_dark_line, c_orange_line, c_cyan_line)},
]

sns.set_theme(style="white")
plt.rcParams["font.family"] = ["Open Sans", "DejaVu Sans"]
plt.rcParams["mathtext.fontset"] = "custom"
plt.rcParams["mathtext.rm"] = "Open Sans"
plt.rcParams["mathtext.it"] = "Open Sans:italic"

fig = plt.figure(figsize=(W / 200, H / 200), dpi=200)
top, bottom = 470, 1473

for p in panels:
    ax = fig.add_axes([p["left"] / W, 1 - bottom / H, (p["right"] - p["left"]) / W, (bottom - top) / H])
    for pts, col, z in zip(p["points"][::-1], [cyan, orange, dark], [3, 8, 8]):
        df = pd.DataFrame(pts, columns=["age", "score"])
        sns.scatterplot(data=df, x="age", y="score", color=col, s=6, linewidth=0, ax=ax, zorder=z, clip_on=False)
    for line, col, name, z, lw in zip(p["lines"], [dark, orange, cyan], group_names, [7, 6, 5], [2.8, 2.8, 3.1]):
        df = pd.DataFrame(line, columns=["age", "score"])
        sns.lineplot(data=df, x="age", y="score", color=col, lw=lw, label=name, ax=ax, zorder=z, legend=False, errorbar=None)
    ax.set_xlim(48.32, 90)
    ax.set_ylim(*p["ylim"])
    ax.set_xticks([50, 60, 70, 80, 90])
    ax.set_yticks(p["yticks"])
    ax.set_yticklabels(p["yticklabels"])
    ax.yaxis.grid(True, color="#D9D9D9", lw=1.7, clip_on=False, zorder=1)
    ax.xaxis.grid(False)
    ax.set_axisbelow(True)
    sns.despine(ax=ax)
    for s in ["left", "bottom"]:
        ax.spines[s].set_color("black")
        ax.spines[s].set_linewidth(0.8)
        ax.spines[s].set_zorder(9)
    ax.tick_params(axis="both", which="major", bottom=True, left=True, length=5.8, width=0.8, color="black", labelsize=16.5, labelcolor="black")
    ax.tick_params(axis="x", pad=7)
    ax.tick_params(axis="y", pad=4)
    ax.set_xlabel("Age at cognitive evaluation, y", fontsize=17.5, color="black")
    ax.set_ylabel(p["ylabel"], fontsize=17, color="black")
    ax.xaxis.set_label_coords(0.5, -(1606 - bottom) / (bottom - top), transform=ax.transAxes)
    ax.xaxis.label.set_verticalalignment("center")
    ax.yaxis.set_label_coords((p["label_x"] - p["left"]) / (p["right"] - p["left"]), 0.5)
    ax.yaxis.label.set_verticalalignment("center")
    nx, ny1, ny2 = p["note_xy"]
    ax.text(nx, ny1, r"Adjusted $\mathit{P}$ value for age <46 y vs", fontsize=16, color="black", va="baseline", zorder=10)
    ax.text(nx, ny2, "without bilateral oophorectomy " + p["note"], fontsize=16, color="black", va="baseline", zorder=10)
    #lettered box and panel title
    fig.patches.append(plt.Rectangle((p["box"] / W, 1 - 405 / H), 73 / W, 74 / H, transform=fig.transFigure, fill=False, edgecolor="black", lw=0.9))
    fig.text((p["box"] + 36.5) / W, 1 - 387 / H, p["letter"], ha="center", va="baseline", fontsize=17, fontweight="bold", color="black")
    fig.text(p["title_x"] / W, 1 - 387 / H, p["title"], ha="left", va="baseline", fontsize=17, color="black")
    handles = ax.get_lines()

handles = [h for h in handles if h.get_label() in group_names]
fig.legend(handles, [h.get_label() for h in handles], loc="upper left", bbox_to_anchor=(2962 / W, 1 - 49 / H), borderaxespad=0,
           frameon=True, fancybox=False, framealpha=1, edgecolor="black", fontsize=15.8, handlelength=3.35, handletextpad=0.41,
           labelspacing=0.4, borderpad=0.77, labelcolor="black")

fig.savefig("out.png", dpi=200)
